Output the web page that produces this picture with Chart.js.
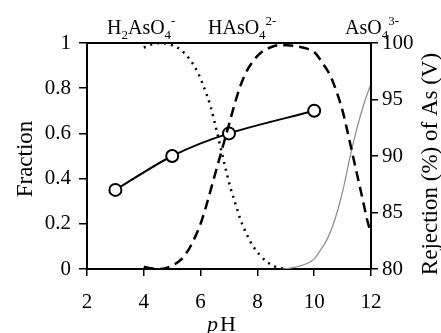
<!DOCTYPE html>
<html>
<head>
<meta charset="utf-8">
<script src="https://cdn.jsdelivr.net/npm/chart.js@4.4.1/dist/chart.umd.min.js"></script>
<style>
  html, body { margin: 0; padding: 0; background: #fff; }
  #wrap { width: 441px; height: 333px; }
</style>
</head>
<body>
<div id="wrap"><canvas id="chart" width="441" height="333"></canvas></div>
<script>
// species distribution of arsenate vs pH
const phH2AsO4 = [4.0, 4.3, 4.6, 5.0, 5.3, 5.6, 5.9, 6.1, 6.35, 6.55, 6.7, 6.85, 7.05, 7.25, 7.4, 7.6, 7.85, 8.1, 8.35, 8.6, 8.8, 9.0];
const fracH2AsO4 = [0.98, 0.995, 1.0, 0.99, 0.97, 0.93, 0.87, 0.81, 0.72, 0.62, 0.54, 0.46, 0.36, 0.28, 0.22, 0.16, 0.10, 0.06, 0.03, 0.012, 0.004, 0.0];

const phHAsO4 = [4.0, 4.2, 4.5, 4.8, 5.0, 5.3, 5.55, 5.8, 6.0, 6.2, 6.4, 6.6, 6.8, 7.0, 7.2, 7.4, 7.6, 7.85, 8.1, 8.45, 8.75, 9.05, 9.4, 9.75, 10.0, 10.3, 10.55, 10.8, 11.0, 11.15, 11.4, 11.65, 11.9, 12.0];
const fracHAsO4 = [0.01, 0.005, 0.0, 0.005, 0.015, 0.04, 0.08, 0.14, 0.2, 0.28, 0.37, 0.46, 0.55, 0.64, 0.73, 0.81, 0.87, 0.92, 0.955, 0.98, 0.99, 0.99, 0.985, 0.975, 0.96, 0.91, 0.86, 0.78, 0.7, 0.62, 0.48, 0.34, 0.2, 0.16];

const phAsO4 = [8.8, 9.1, 9.4, 9.7, 10.0, 10.2, 10.45, 10.65, 10.85, 11.05, 11.25, 11.5, 11.75, 12.0];
const fracAsO4 = [0.0, 0.003, 0.01, 0.022, 0.045, 0.08, 0.13, 0.19, 0.27, 0.37, 0.49, 0.62, 0.73, 0.82];

// rejection of As(V), right axis
const phRejection = [3, 5, 7, 10];
const rejection = [87, 90, 92, 94];

const xTicks = [2, 4, 6, 8, 10, 12];
const fracTicks = [0, 0.2, 0.4, 0.6, 0.8, 1];
const rejTicks = [80, 85, 90, 95, 100];

const serif = '"Liberation Serif", "DejaVu Serif", serif';

function pts(xs, ys) {
    return xs.map((x, i) => ({ x: x, y: ys[i] }));
}

// box frame, species labels and axis titles
const extras = {
    id: 'extras',
    afterDraw(chart) {
        const { ctx, chartArea: a } = chart;
        ctx.save();
        ctx.strokeStyle = '#000';
        ctx.lineWidth = 2;
        ctx.beginPath();
        ctx.moveTo(a.left, a.top);
        ctx.lineTo(a.right, a.top);
        ctx.lineTo(a.right, a.bottom);
        ctx.stroke();

        ctx.fillStyle = '#000';
        ctx.textBaseline = 'alphabetic';
        // runs of [text, kind]: n normal, b subscript, p superscript
        function rich(runs, x, y, size) {
            let cx = x;
            runs.forEach(([t, k]) => {
                const s = k === 'n' ? size : Math.round(size * 0.65);
                const dy = k === 'b' ? size * 0.25 : (k === 'p' ? -size * 0.45 : 0);
                ctx.font = s + 'px ' + serif;
                ctx.fillText(t, cx, y + dy);
                cx += ctx.measureText(t).width;
            });
        }
        rich([['H', 'n'], ['2', 'b'], ['AsO', 'n'], ['4', 'b'], ['-', 'p']], 107, 34, 20);
        rich([['HAsO', 'n'], ['4', 'b'], ['2-', 'p']], 208, 34, 20);
        rich([['AsO', 'n'], ['4', 'b'], ['3-', 'p']], 345, 34, 20);

        ctx.font = 'italic 22px ' + serif;
        ctx.fillText('p', 207, 331);
        ctx.font = '22px ' + serif;
        ctx.fillText('H', 220, 331);

        // both vertical titles read bottom-to-top
        ctx.font = '23px ' + serif;
        ctx.textAlign = 'center';
        ctx.textBaseline = 'middle';
        ctx.translate(26, 159);
        ctx.rotate(-Math.PI / 2);
        ctx.fillText('Fraction', 0, 0);
        ctx.setTransform(1, 0, 0, 1, 0, 0);
        ctx.translate(431, 164);
        ctx.rotate(-Math.PI / 2);
        ctx.fillText('Rejection (%) of As (V)', 0, 0);
        ctx.restore();
    }
};

const ctx = document.getElementById('chart').getContext('2d');
new Chart(ctx, {
    type: 'line',
    data: {
        datasets: [
            {
                label: 'H2AsO4-',
                data: pts(phH2AsO4, fracH2AsO4),
                borderColor: '#000',
                borderWidth: 2.5,
                borderDash: [2, 5],
                pointRadius: 0,
                cubicInterpolationMode: 'monotone',
                yAxisID: 'y'
            },
            {
                label: 'HAsO4 2-',
                data: pts(phHAsO4, fracHAsO4),
                borderColor: '#000',
                borderWidth: 2.5,
                borderDash: [10, 6],
                pointRadius: 0,
                cubicInterpolationMode: 'monotone',
                yAxisID: 'y'
            },
            {
                label: 'AsO4 3-',
                data: pts(phAsO4, fracAsO4),
                borderColor: '#8a8a8a',
                borderWidth: 1.2,
                pointRadius: 0,
                cubicInterpolationMode: 'monotone',
                yAxisID: 'y'
            },
            {
                label: 'Rejection',
                data: pts(phRejection, rejection),
                borderColor: '#000',
                borderWidth: 2,
                tension: 0.3,
                pointRadius: 6,
                pointBorderWidth: 2,
                pointBackgroundColor: '#fff',
                pointBorderColor: '#000',
                yAxisID: 'y2'
            }
        ]
    },
    options: {
        responsive: false,
        animation: false,
        layout: { padding: { top: 43, left: 0, right: 0, bottom: 0 } },
        plugins: {
            legend: { display: false },
            tooltip: { enabled: false }
        },
        scales: {
            x: {
                type: 'linear',
                min: 2,
                max: 12,
                afterBuildTicks: s => { s.ticks = xTicks.map(v => ({ value: v })); },
                afterFit: s => { s.height = 64; },
                border: { color: '#000', width: 2 },
                grid: { drawOnChartArea: false, tickLength: 7, color: '#000', lineWidth: 1.5 },
                ticks: { color: '#000', font: { family: serif, size: 21 }, padding: 14, maxRotation: 0 }
            },
            y: {
                position: 'left',
                min: 0,
                max: 1,
                afterBuildTicks: s => { s.ticks = fracTicks.map(v => ({ value: v })); },
                afterFit: s => { s.width = 87; },
                border: { color: '#000', width: 2 },
                grid: { drawOnChartArea: false, tickLength: 8, color: '#000', lineWidth: 1.5 },
                ticks: {
                    color: '#000',
                    font: { family: serif, size: 21 },
                    padding: 8,
                    callback: v => String(Number(v.toFixed(1)))
                }
            },
            y2: {
                position: 'right',
                min: 80,
                max: 100,
                afterBuildTicks: s => { s.ticks = rejTicks.map(v => ({ value: v })); },
                afterFit: s => { s.width = 70; },
                border: { color: '#000', width: 2 },
                grid: { drawOnChartArea: false, tickLength: 7, color: '#000', lineWidth: 1.5 },
                ticks: { color: '#000', font: { family: serif, size: 21 }, padding: 4 }
            }
        }
    },
    plugins: [extras]
});
</script>
</body>
</html>
